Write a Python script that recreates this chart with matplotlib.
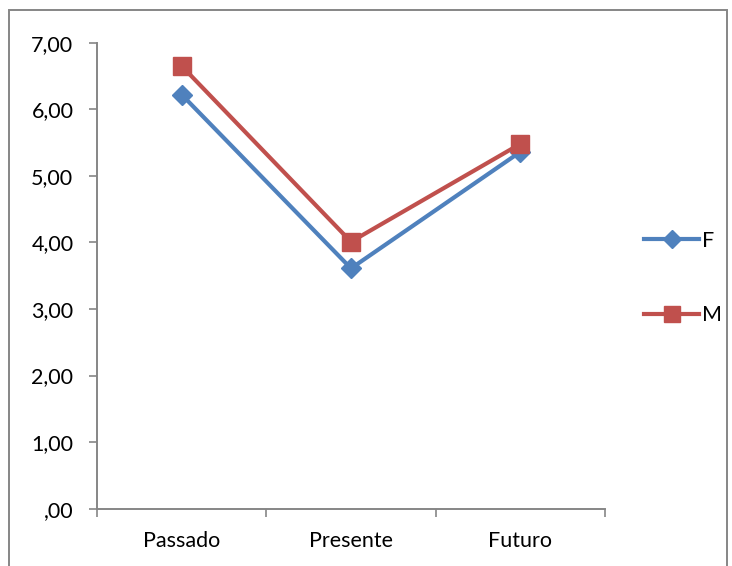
import matplotlib.pyplot as plt
from matplotlib.patches import Rectangle
from matplotlib.ticker import FuncFormatter, FixedLocator

categories = ['Passado', 'Presente', 'Futuro']
f_values = [6.22, 3.61, 5.36]
m_values = [6.65, 4.01, 5.48]

blue = '#4F81BD'
red = '#C0504D'
axis_gray = '#868686'

plt.rcParams['font.family'] = ['Lato', 'DejaVu Sans']

fig = plt.figure(figsize=(7.32, 5.66), dpi=100)
ax = fig.add_axes([97 / 732, 1 - 508.7 / 566, 508 / 732, 466 / 566])

x = list(range(1, len(categories) + 1))
ax.plot(x, f_values, color=blue, linewidth=3, marker='D', markersize=10,
        markerfacecolor=blue, markeredgecolor=blue, label='F')
ax.plot(x, m_values, color=red, linewidth=3, marker='s', markersize=13,
        markerfacecolor=red, markeredgecolor=red, label='M')

ax.set_xlim(0.5, 3.5)
ax.set_ylim(0, 7)
ax.set_yticks([0, 1, 2, 3, 4, 5, 6, 7])


def pt_format(v, pos):
    s = f'{v:.2f}'.replace('.', ',')
    return s[1:] if s.startswith('0') else s


ax.yaxis.set_major_formatter(FuncFormatter(pt_format))

# category labels sit between the boundary ticks
ax.xaxis.set_major_locator(FixedLocator([0.5, 1.5, 2.5, 3.5]))
ax.set_xticklabels([])
ax.set_xticks(x, minor=True)
ax.set_xticklabels(categories, minor=True)

ax.tick_params(axis='y', direction='out', length=6, width=1.2,
               color=axis_gray, labelsize=15.5, pad=11)
ax.tick_params(axis='x', which='major', direction='out', length=6,
               width=1.2, color=axis_gray)
ax.tick_params(axis='x', which='minor', length=0, labelsize=15.5, pad=16)

for side in ['top', 'right']:
    ax.spines[side].set_visible(False)
for side in ['left', 'bottom']:
    ax.spines[side].set_color(axis_gray)
    ax.spines[side].set_linewidth(1.4)

ax.legend(loc='center left', bbox_to_anchor=(1.06, 0.495), frameon=False,
          fontsize=15.5, handlelength=2.55, handletextpad=0.15,
          labelspacing=2.55, borderaxespad=0, markerscale=0.9)

# chart area border
fig.patches.append(Rectangle((9 / 732, -0.1), 718 / 732, 1.1 - 10 / 566,
                             transform=fig.transFigure, fill=False,
                             edgecolor=axis_gray, linewidth=1.4))

fig.savefig('out.png', dpi=100)
